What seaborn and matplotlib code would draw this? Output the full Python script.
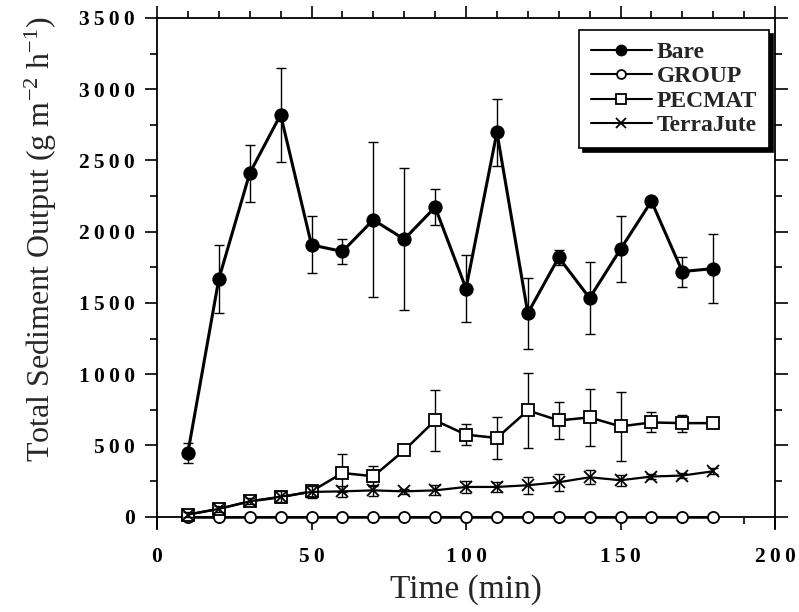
import numpy as np
import pandas as pd
import matplotlib
matplotlib.use("Agg")
import matplotlib.pyplot as plt
from matplotlib.ticker import MultipleLocator, FuncFormatter
import seaborn as sns

# sampling times (min)
time = [10, 20, 30, 40, 50, 60, 70, 80, 90, 100, 110, 120, 130, 140, 150, 160, 170, 180]

# mean sediment output (g m-2 h-1) and error bars
bare = [449, 1667, 2410, 2821, 1907, 1861, 2083, 1947, 2172, 1601, 2698, 1428, 1819, 1534, 1877, 2214, 1720, 1741]
bare_err = [70, 240, 200, 330, 200, 85, 545, 500, 125, 235, 235, 250, 55, 250, 230, 20, 105, 245]

group = [-5] * 18
group_err = [0] * 18

pecmat = [14, 54, 107, 135, 177, 306, 283, 465, 675, 575, 552, 745, 675, 696, 633, 661, 656, 656]
pecmat_err = [20, 20, 25, 35, 35, 130, 70, 0, 215, 75, 150, 265, 130, 200, 240, 70, 60, 0]

terrajute = [14, 54, 107, 140, 173, 177, 184, 177, 184, 208, 208, 220, 241, 276, 255, 281, 288, 318]
terrajute_err = [15, 20, 20, 40, 40, 40, 40, 20, 35, 40, 35, 60, 60, 50, 40, 15, 15, 20]

names = ["Bare", "GROUP", "PECMAT", "TerraJute"]
means = [bare, group, pecmat, terrajute]
errs = [bare_err, group_err, pecmat_err, terrajute_err]

df = pd.concat([pd.DataFrame({"Time": time, "Output": m, "Err": e, "Treatment": n})
                for n, m, e in zip(names, means, errs)], ignore_index=True)

sns.set_style("ticks")
plt.rcParams["font.family"] = ["Liberation Serif", "DejaVu Serif"]
plt.rcParams["mathtext.default"] = "regular"

fig = plt.figure(figsize=(7.99, 6.12), dpi=100)
ax = fig.add_axes([0.1965, 0.1373, 0.7735, 0.8333])

markers = {"Bare": "o", "GROUP": "o", "PECMAT": "s", "TerraJute": "x"}
face = {"Bare": "black", "GROUP": "white", "PECMAT": "white", "TerraJute": "black"}
msize = {"Bare": 9, "GROUP": 8, "PECMAT": 9, "TerraJute": 9}
lw = {"Bare": 2.2, "GROUP": 1.8, "PECMAT": 1.8, "TerraJute": 1.6}

for i, n in enumerate(names):
    sub = df[df["Treatment"] == n]
    ax.errorbar(sub["Time"], sub["Output"], yerr=sub["Err"], fmt="none",
                ecolor="black", elinewidth=1, capsize=3.5, capthick=1, zorder=2 + i)
    sns.lineplot(data=sub, x="Time", y="Output", ax=ax, color="black",
                 marker=markers[n], markersize=msize[n], markerfacecolor=face[n],
                 markeredgecolor="black", markeredgewidth=1.3, linewidth=lw[n],
                 label=n, zorder=3 + i, errorbar=None)

ax.set_xlim(0, 200)
ax.set_ylim(-80, 3500)
ax.xaxis.set_major_locator(MultipleLocator(50))
ax.xaxis.set_minor_locator(MultipleLocator(10))
ax.yaxis.set_major_locator(MultipleLocator(500))
ax.yaxis.set_minor_locator(MultipleLocator(250))

# slightly spaced-out digits like the original typesetting
spaced = FuncFormatter(lambda v, p: "\u2009".join(str(int(round(v)))))
ax.xaxis.set_major_formatter(spaced)
ax.yaxis.set_major_formatter(spaced)

ax.spines["bottom"].set_position(("data", 0))
for s in ax.spines.values():
    s.set_linewidth(1.3)
    s.set_color("black")

ax.tick_params(which="both", direction="out", top=True, right=True,
               labeltop=False, labelright=False, width=1.2, colors="black")
ax.tick_params(which="major", length=9)
ax.tick_params(which="minor", length=5)
ax.tick_params(axis="both", labelsize=15.5)
ax.tick_params(axis="x", pad=13)
ax.tick_params(axis="y", pad=7)
for lab in ax.get_xticklabels() + ax.get_yticklabels():
    lab.set_fontweight("bold")

ax.set_xlabel("Time (min)", fontsize=24, labelpad=5)
ax.set_ylabel("Total Sediment Output (g m$^{-2}$ h$^{-1}$)", fontsize=23)
ax.yaxis.set_label_coords(-0.159, 0.567)

leg = ax.legend(loc="upper right", bbox_to_anchor=(0.990, 0.977), fontsize=17,
                frameon=True, fancybox=False, handlelength=2.6, handletextpad=0.2,
                labelspacing=0.12, borderpad=0.5, borderaxespad=0, edgecolor="black",
                markerscale=0.8,
                shadow={"color": "black", "alpha": 1, "ox": 3, "oy": -3})
leg.get_frame().set_linewidth(1.2)
leg.get_frame().set_alpha(1)
for t in leg.get_texts():
    t.set_fontweight("bold")
for h in leg.get_lines():
    h.set_linewidth(1.5)

fig.savefig("out.png", dpi=100)
